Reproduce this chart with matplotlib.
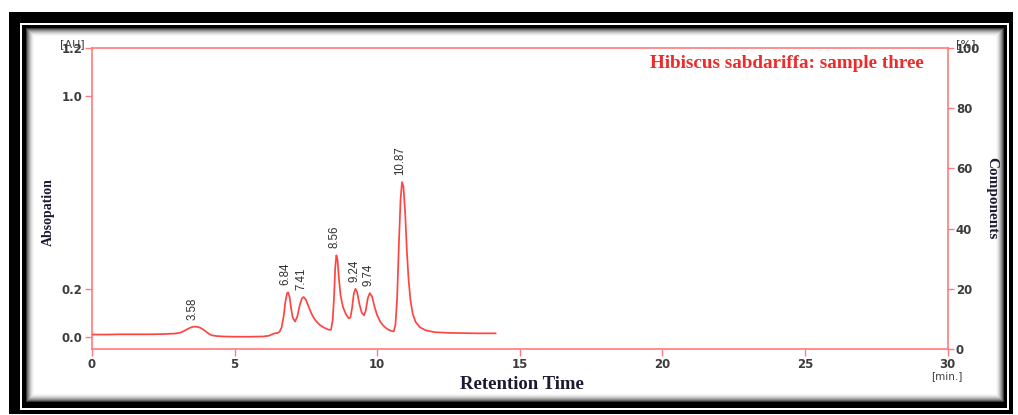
import matplotlib
matplotlib.use("Agg")
import matplotlib.pyplot as plt
from matplotlib.patches import Rectangle

# ---- data ----
time_min = [0.0, 0.5, 1.0, 1.5, 2.0, 2.5, 2.9, 3.1, 3.25, 3.4, 3.5, 3.6, 3.7, 3.8, 3.9,
            4.0, 4.1, 4.2, 4.35, 4.6, 5.0, 5.5, 6.0, 6.2, 6.3, 6.4, 6.5, 6.58, 6.65,
            6.72, 6.78, 6.84, 6.88, 6.93, 6.98, 7.04, 7.12, 7.2, 7.28, 7.36, 7.42, 7.5,
            7.6, 7.7, 7.8, 7.9, 8.0, 8.1, 8.2, 8.3, 8.38, 8.44, 8.49, 8.53, 8.57, 8.61,
            8.66, 8.72, 8.8, 8.9, 9.0, 9.06, 9.12, 9.18, 9.24, 9.3, 9.38, 9.46, 9.54,
            9.6, 9.67, 9.74, 9.82, 9.92, 10.0, 10.1, 10.2, 10.3, 10.4, 10.5, 10.58,
            10.64, 10.7, 10.76, 10.82, 10.87, 10.92, 10.98, 11.04, 11.1, 11.17, 11.25,
            11.35, 11.5, 11.7, 12.0, 12.5, 13.0, 13.5, 14.15]
absorbance = [0.010, 0.010, 0.011, 0.011, 0.011, 0.012, 0.014, 0.018, 0.026, 0.036, 0.041,
              0.043, 0.042, 0.038, 0.031, 0.022, 0.013, 0.007, 0.004, 0.002, 0.001, 0.001,
              0.002, 0.005, 0.010, 0.015, 0.016, 0.022, 0.040, 0.085, 0.145, 0.182, 0.185,
              0.165, 0.120, 0.080, 0.064, 0.085, 0.130, 0.160, 0.166, 0.155, 0.125, 0.096,
              0.075, 0.060, 0.049, 0.041, 0.035, 0.030, 0.030, 0.070, 0.170, 0.290, 0.339,
              0.320, 0.240, 0.170, 0.125, 0.095, 0.078, 0.080, 0.120, 0.180, 0.200, 0.185,
              0.135, 0.100, 0.090, 0.110, 0.160, 0.182, 0.168, 0.120, 0.090, 0.065, 0.049,
              0.038, 0.030, 0.025, 0.023, 0.050, 0.160, 0.380, 0.570, 0.643, 0.625, 0.520,
              0.360, 0.240, 0.150, 0.095, 0.062, 0.040, 0.028, 0.020, 0.017, 0.016, 0.015,
              0.015]
peak_times = [3.58, 6.84, 7.41, 8.56, 9.24, 9.74, 10.87]
peak_heights = [0.043, 0.185, 0.166, 0.339, 0.200, 0.182, 0.643]
peak_labels = ["3.58", "6.84", "7.41", "8.56", "9.24", "9.74", "10.87"]
x_ticks = [0, 5, 10, 15, 20, 25, 30]
y_ticks = [0.0, 0.2, 1.0, 1.2]
y_tick_labels = ["0.0", "0.2", "1.0", "1.2"]
right_ticks = [0, 20, 40, 60, 80, 100]
title = "Hibiscus sabdariffa: sample three"

W, H = 1018, 415
fig = plt.figure(figsize=(W / 100, H / 100), dpi=100)
fig.patch.set_facecolor("white")


def rect(x0, y0, x1, y1, color, z=-10):
    fig.add_artist(Rectangle((x0 / W, 1 - y1 / H), (x1 - x0) / W, (y1 - y0) / H,
                             transform=fig.transFigure, facecolor=color,
                             edgecolor="none", zorder=z))


# frame
rect(9, 12, 1013, 414, "black", -20)
rect(20, 23, 1009, 410, "white", -19)
rect(22, 25, 1007, 408, "black", -18)
shades = ["#3a3a3a", "#6a6a6a", "#8e8e8e", "#acacac", "#c6c6c6", "#dcdcdc", "#ececec", "#f7f7f7"]
for i, c in enumerate(shades):
    rect(26 + i, 28 + i, 1004 - i, 402 - i, c, -17 + i * 0.1)
rect(34, 36, 996, 394, "white", -15)

spine_c = "#ff7c7c"
line_c = "#ff4444"
tick_c = "#3c3c3c"

ax = fig.add_axes([92 / W, 1 - 349 / H, (947.5 - 92) / W, (349 - 48) / H])
ax.set_facecolor("none")
ax.plot(time_min, absorbance, color=line_c, lw=1.25, zorder=3)
ax.set_xlim(0, 30)
ax.set_ylim(-0.05, 1.2)
ax.set_xticks(x_ticks)
ax.set_yticks(y_ticks)
ax.set_yticklabels(y_tick_labels)
for s in ax.spines.values():
    s.set_color(spine_c)
    s.set_linewidth(1.2)
ax.tick_params(axis="both", colors=spine_c, length=5, width=1.0, labelcolor=tick_c,
               labelsize=8.5)
for lab in ax.get_xticklabels() + ax.get_yticklabels():
    lab.set_fontweight("bold")
ax.tick_params(axis="x", pad=1.5)
ax.tick_params(axis="y", pad=2)

for t, h, lab in zip(peak_times, peak_heights, peak_labels):
    ax.annotate(lab, xy=(t, h), xytext=(-1, 5), textcoords="offset points",
                rotation=90, ha="center", va="bottom", fontsize=8.3, color="#2e2e2e",
                family=["Liberation Sans", "DejaVu Sans"])

ax2 = ax.twinx()
ax2.set_ylim(0, 100)
ax2.set_yticks(right_ticks)
for s in ax2.spines.values():
    s.set_visible(False)
ax2.tick_params(axis="y", colors=spine_c, length=5, width=1.0, labelcolor=tick_c,
                labelsize=8.5, pad=1)
for lab in ax2.get_yticklabels():
    lab.set_fontweight("bold")

serif = ["Liberation Serif", "DejaVu Serif"]
lab_c = "#1a1a30"
fig.text(48 / W, 1 - 212 / H, "Absopation", rotation=90, ha="center", va="center",
         fontsize=10, fontweight="bold", family=serif, color=lab_c)
fig.text(522 / W, 1 - 384 / H, "Retention Time", ha="center", va="center",
         fontsize=13.5, fontweight="bold", family=serif, color=lab_c)
fig.text(992 / W, 1 - 198 / H, "Components", rotation=-90, ha="center", va="center",
         fontsize=11, fontweight="bold", family=serif, color=lab_c)
fig.text(924 / W, 1 - 64 / H, title, ha="right", va="center", fontsize=13.8,
         fontweight="bold", family=serif, color="#ee2a2a")
fig.text(72 / W, 1 - 44 / H, "[AU]", ha="center", va="center", fontsize=8,
         color=tick_c)
fig.text(966 / W, 1 - 44 / H, "[%]", ha="center", va="center", fontsize=8,
         color=tick_c)
fig.text(947 / W, 1 - 376 / H, "[min.]", ha="center", va="center", fontsize=7.5,
         color=tick_c)

fig.savefig("out.png", dpi=100)
